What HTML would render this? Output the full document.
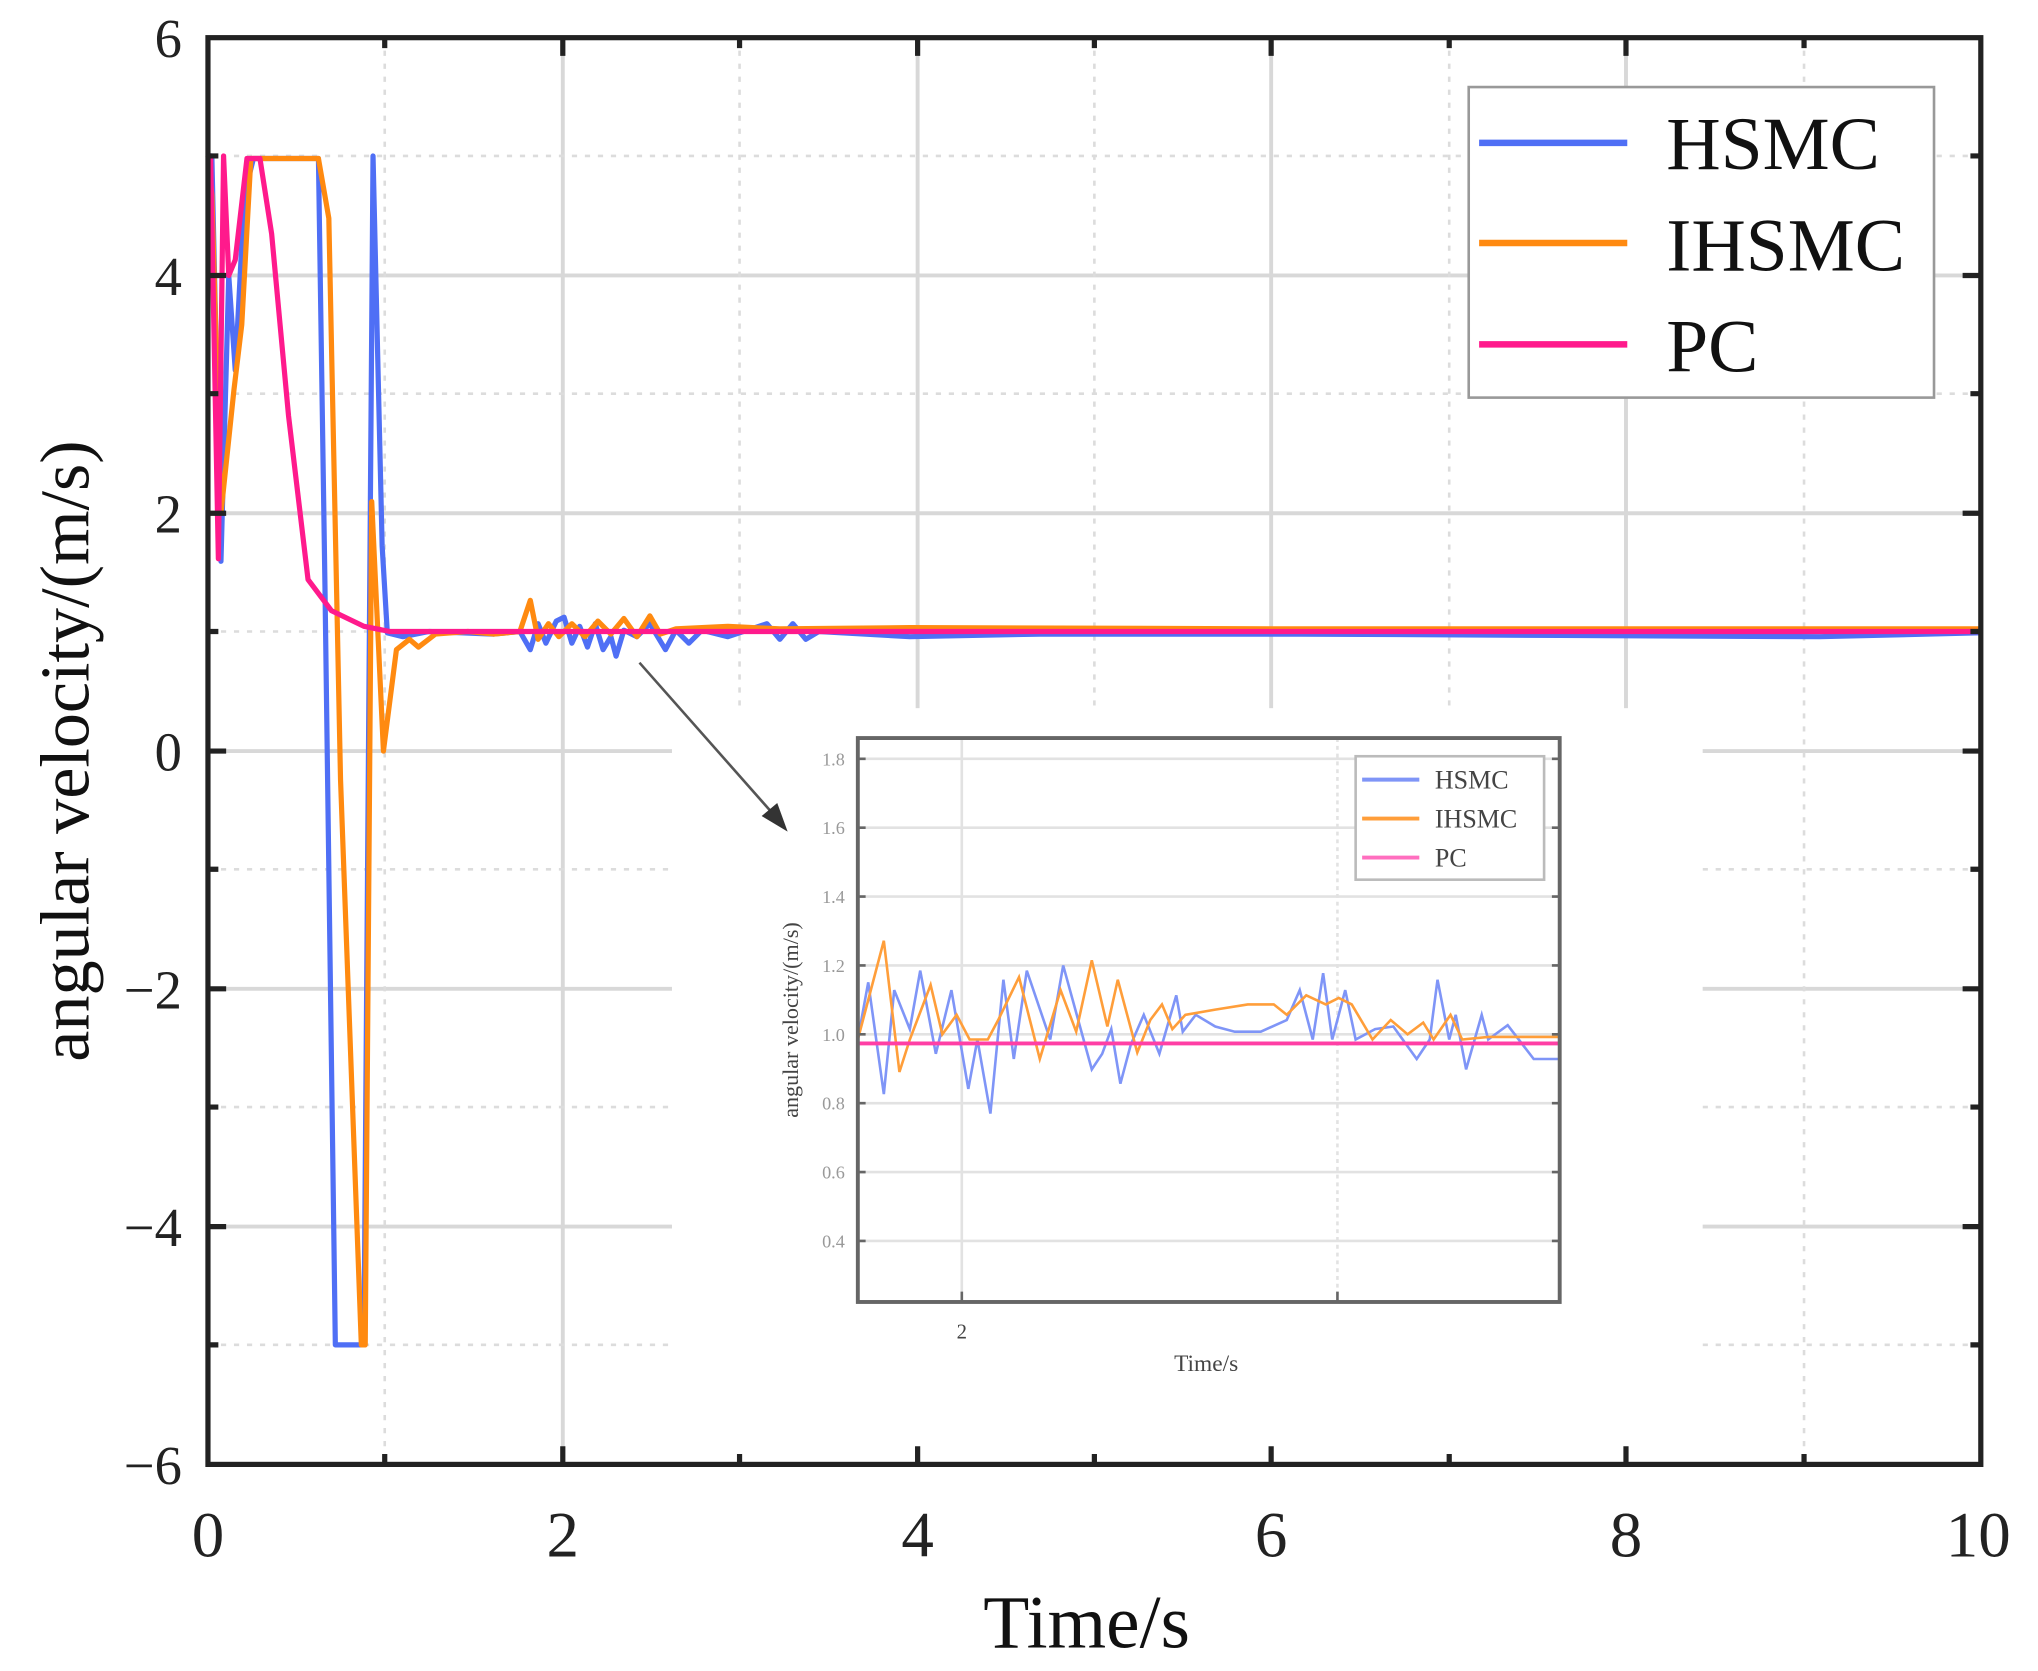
<!DOCTYPE html>
<html><head><meta charset="utf-8"><style>html,body{margin:0;padding:0;background:#fff}svg{display:block}</style></head>
<body>
<svg width="2038" height="1671" viewBox="0 0 1568 1286" preserveAspectRatio="none" xmlns="http://www.w3.org/2000/svg" font-family="Liberation Serif, serif">
<rect width="1568" height="1286" fill="#fff"/>
<g stroke="#d8d8d8" stroke-width="3">
<line x1="433" y1="29" x2="433" y2="1127"/><line x1="706" y1="29" x2="706" y2="1127"/><line x1="978" y1="29" x2="978" y2="1127"/><line x1="1251" y1="29" x2="1251" y2="1127"/>
<line x1="160" y1="212" x2="1524" y2="212"/><line x1="160" y1="395" x2="1524" y2="395"/><line x1="160" y1="578" x2="1524" y2="578"/><line x1="160" y1="761" x2="1524" y2="761"/><line x1="160" y1="944" x2="1524" y2="944"/>
</g>
<g stroke="#dcdcdc" stroke-width="2" stroke-dasharray="4 6">
<line x1="296" y1="29" x2="296" y2="1127"/><line x1="569" y1="29" x2="569" y2="1127"/><line x1="842" y1="29" x2="842" y2="1127"/><line x1="1115" y1="29" x2="1115" y2="1127"/><line x1="1388" y1="29" x2="1388" y2="1127"/>
<line x1="160" y1="120" x2="1524" y2="120"/><line x1="160" y1="303" x2="1524" y2="303"/><line x1="160" y1="486" x2="1524" y2="486"/><line x1="160" y1="669" x2="1524" y2="669"/><line x1="160" y1="852" x2="1524" y2="852"/><line x1="160" y1="1035" x2="1524" y2="1035"/>
</g>
<rect x="517" y="545" width="793" height="580" fill="#fff"/>
<g fill="none" stroke-width="4" stroke-linejoin="round">
<polyline stroke="#4f6ff5" points="160,120 163,120 170,432 176,212 181,285 188,150 195,122 245,122 250,450 258,1035 280,1035 287,120 294,420 298,487 310,490 330,486 380,488 400,486 408,500 414,480 420,495 428,478 434,475 440,495 446,482 452,498 458,480 464,500 470,490 474,505 480,485 490,490 500,480 512,500 520,485 530,495 540,485 560,490 590,480 600,492 610,480 620,492 630,486 700,490 800,488 1000,488 1200,489 1400,490 1524,487"/>
<polyline stroke="#ff8a10" points="160,120 163,150 170,395 180,300 186,250 193,122 245,122 253,168 262,600 278,1035 281,1035 286,386 295,578 305,500 315,492 322,498 335,488 360,486 380,488 400,486 408,462 414,492 422,480 430,490 440,480 450,490 460,478 470,488 480,476 490,490 500,474 508,488 520,484 560,482 600,484 700,483 1000,484 1524,484"/>
<polyline stroke="#ff1a8c" points="160,120 162,120 168,430 172,120 176,212 181,200 190,122 200,122 209,180 222,320 237,446 255,470 280,482 300,486 1524,486"/>
</g>
<rect x="160" y="29" width="1364" height="1098" fill="none" stroke="#222" stroke-width="4"/>
<g stroke="#222" stroke-width="4">
<path d="M296,1127v-8M433,1127v-14M569,1127v-8M706,1127v-14M842,1127v-8M978,1127v-14M1115,1127v-8M1251,1127v-14M1388,1127v-8"/>
<path d="M296,29v8M433,29v14M569,29v8M706,29v14M842,29v8M978,29v14M1115,29v8M1251,29v14M1388,29v8"/>
<path d="M160,120h8M160,212h14M160,303h8M160,395h14M160,486h8M160,578h14M160,669h8M160,761h14M160,852h8M160,944h14M160,1035h8"/>
<path d="M1524,120h-8M1524,212h-14M1524,303h-8M1524,395h-14M1524,486h-8M1524,578h-14M1524,669h-8M1524,761h-14M1524,852h-8M1524,944h-14M1524,1035h-8"/>
</g>
<g font-size="42" fill="#222" text-anchor="end">
<text x="140" y="44">6</text><text x="140" y="227">4</text><text x="140" y="410">2</text><text x="140" y="593">0</text><text x="140" y="776">−2</text><text x="140" y="959">−4</text><text x="140" y="1142">−6</text>
</g>
<g font-size="50" fill="#222" text-anchor="middle">
<text x="160" y="1198">0</text><text x="433" y="1198">2</text><text x="706" y="1198">4</text><text x="978" y="1198">6</text><text x="1251" y="1198">8</text><text x="1522" y="1198">10</text>
</g>
<text x="836" y="1268" font-size="58" text-anchor="middle" fill="#111">Time/s</text>
<text transform="translate(68,578) rotate(-90)" font-size="54" text-anchor="middle" fill="#111">angular velocity/(m/s)</text>
<rect x="1130" y="67" width="358" height="239" fill="#fff" stroke="#999" stroke-width="2"/>
<line x1="1138" y1="110" x2="1252" y2="110" stroke="#4f6ff5" stroke-width="5"/>
<line x1="1138" y1="187" x2="1252" y2="187" stroke="#ff8a10" stroke-width="5"/>
<line x1="1138" y1="265" x2="1252" y2="265" stroke="#ff1a8c" stroke-width="5"/>
<g font-size="58" fill="#111"><text x="1282" y="130">HSMC</text><text x="1282" y="208">IHSMC</text><text x="1282" y="286">PC</text></g>
<line x1="492" y1="510" x2="598" y2="630" stroke="#555" stroke-width="2"/>
<polygon points="606,640 586,628 598,618" fill="#333"/>
<g stroke="#e2e2e2" stroke-width="2">
<line x1="660" y1="584" x2="1200" y2="584"/><line x1="660" y1="637" x2="1200" y2="637"/><line x1="660" y1="690" x2="1200" y2="690"/><line x1="660" y1="743" x2="1200" y2="743"/><line x1="660" y1="796" x2="1200" y2="796"/><line x1="660" y1="849" x2="1200" y2="849"/><line x1="660" y1="902" x2="1200" y2="902"/><line x1="660" y1="955" x2="1200" y2="955"/>
<line x1="740" y1="568" x2="740" y2="1002"/><line x1="1029" y1="568" x2="1029" y2="1002" stroke-dasharray="3 3"/>
</g>
<g fill="none" stroke-width="2">
<polyline stroke="#7f95f7" points="660,800 668,756 680,842 688,762 700,792 708,747 720,811 732,762 745,838 752,800 762,857 772,754 780,815 790,747 808,800 818,743 840,823 848,811 855,792 862,834 870,804 880,781 892,811 905,766 910,794 920,781 935,790 950,794 970,794 990,785 1000,762 1010,800 1018,749 1025,800 1035,762 1043,800 1058,792 1072,790 1090,815 1100,800 1106,754 1115,800 1120,781 1128,823 1140,781 1145,800 1160,789 1180,815 1200,815"/>
<polyline stroke="#ff9e3a" points="660,800 680,724 692,825 700,800 716,758 725,796 736,781 746,800 760,800 768,785 784,752 800,815 816,762 828,794 840,739 852,790 860,754 875,810 885,785 894,773 902,792 912,781 935,777 960,773 980,773 990,781 1005,766 1020,773 1030,768 1040,773 1056,800 1070,785 1083,796 1095,787 1103,800 1116,781 1125,800 1145,798 1200,798"/>
<line x1="660" y1="803" x2="1200" y2="803" stroke="#ff3fa5" stroke-width="3"/>
</g>
<rect x="660" y="568" width="540" height="434" fill="none" stroke="#666" stroke-width="3"/>
<g stroke="#666" stroke-width="2"><path d="M740,1002v-8M1029,1002v-8M660,584h6M660,637h6M660,690h6M660,743h6M660,796h6M660,849h6M660,902h6M660,955h6M1200,584h-6M1200,637h-6M1200,690h-6M1200,743h-6M1200,796h-6M1200,849h-6M1200,902h-6M1200,955h-6"/></g>
<g font-size="14" fill="#999" text-anchor="end">
<text x="650" y="589">1.8</text><text x="650" y="642">1.6</text><text x="650" y="695">1.4</text><text x="650" y="748">1.2</text><text x="650" y="801">1.0</text><text x="650" y="854">0.8</text><text x="650" y="907">0.6</text><text x="650" y="960">0.4</text>
</g>
<text x="740" y="1030" font-size="16" fill="#444" text-anchor="middle">2</text>
<text x="928" y="1055" font-size="18" fill="#444" text-anchor="middle">Time/s</text>
<text transform="translate(614,785) rotate(-90)" font-size="17" fill="#444" text-anchor="middle">angular velocity/(m/s)</text>
<rect x="1043" y="582" width="145" height="95" fill="#fff" stroke="#bbb" stroke-width="2"/>
<line x1="1048" y1="600" x2="1092" y2="600" stroke="#7f95f7" stroke-width="3"/>
<line x1="1048" y1="630" x2="1092" y2="630" stroke="#ff9e3a" stroke-width="3"/>
<line x1="1048" y1="660" x2="1092" y2="660" stroke="#ff6fbf" stroke-width="3"/>
<g font-size="20" fill="#444"><text x="1104" y="607">HSMC</text><text x="1104" y="637">IHSMC</text><text x="1104" y="667">PC</text></g>
</svg>
</body></html>
